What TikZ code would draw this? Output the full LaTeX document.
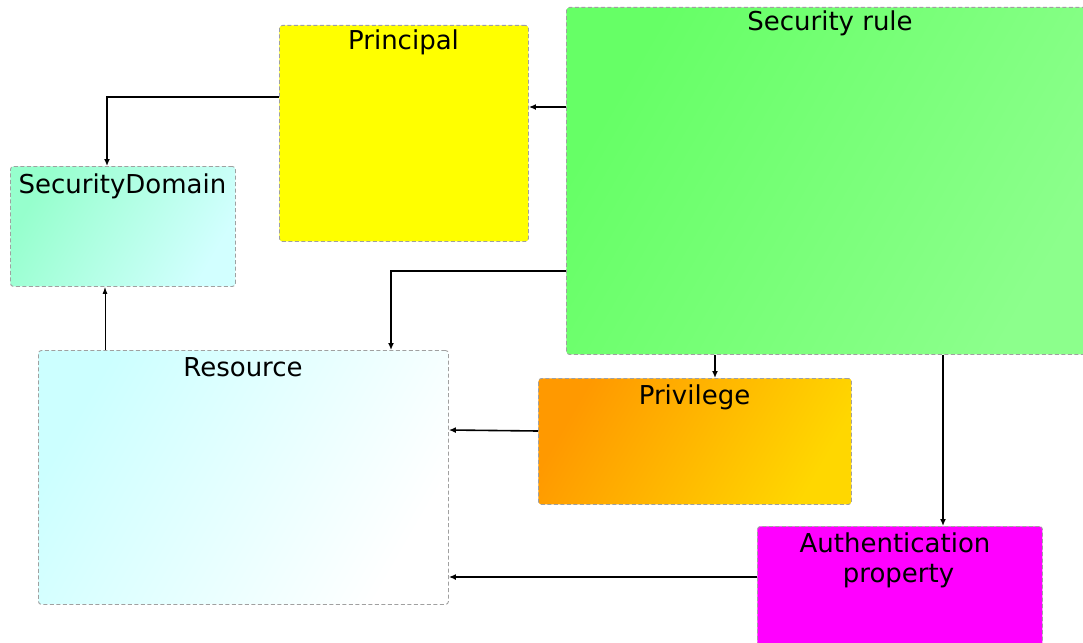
\documentclass[tikz,border=0pt]{standalone}
\usepackage{fontspec}
\setmainfont{DejaVu Sans}
\usetikzlibrary{arrows.meta,calc}
\definecolor{rulegA}{RGB}{102,255,102}
\definecolor{rulegB}{RGB}{140,255,140}
\definecolor{sdA}{RGB}{150,255,205}
\definecolor{sdB}{RGB}{210,255,255}
\definecolor{resA}{RGB}{204,255,255}
\definecolor{resB}{RGB}{255,255,255}
\definecolor{prvA}{RGB}{255,153,0}
\definecolor{prvB}{RGB}{255,215,0}
\definecolor{pyellow}{RGB}{255,255,0}
\definecolor{pmagenta}{RGB}{255,0,255}
\definecolor{bordergray}{RGB}{160,160,160}
\tikzset{
  box/.style={draw=bordergray, dash pattern=on 4pt off 2.5pt, line width=0.9pt, rounded corners=3pt, anchor=north west, inner sep=0pt},
  grad/.style n args={2}{top color=#1, bottom color=#2, shading angle=60},
  title/.style={anchor=base, font=\fontsize{26}{30}\selectfont, inner sep=0pt, align=center},
  arr/.style={line width=1.6pt, -{Latex[length=7pt,width=6pt]}},
  thinarr/.style={line width=1pt, -{Latex[length=7pt,width=5pt]}}
}
\begin{document}
\begin{tikzpicture}[x=1pt,y=-1pt]
\useasboundingbox (0,0) rectangle (1083,642);
\clip (0,0) rectangle (1083,642);
% boxes
\node[box, fill=pyellow, minimum width=249, minimum height=216] (principal) at (279,25) {};
\node[box, grad={rulegA}{rulegB}, minimum width=529, minimum height=347] (rule) at (566,7) {};
\node[box, grad={sdA}{sdB}, minimum width=225, minimum height=120] (sd) at (10,166) {};
\node[box, grad={resA}{resB}, minimum width=410, minimum height=254] (res) at (38,350) {};
\node[box, grad={prvA}{prvB}, minimum width=313, minimum height=126] (priv) at (538,378) {};
\node[box, fill=pmagenta, minimum width=285, minimum height=130] (auth) at (757,526) {};
% titles
\node[title] (principalT) at (403.5,50) {Principal};
\node[title] (ruleT) at (830,31) {Security rule};
\node[title] (sdT) at (122.5,193) {SecurityDomain};
\node[title] (resT) at (243,376) {Resource};
\node[title] (privT) at (694.5,404) {Privilege};
\node[title] (authT1) at (895,552) {Authentication};
\node[title] (authT2) at (898.5,582) {property};
% connectors
\draw[arr] (principal.west |- 0,97) -| (sd.north -| 107,0);
\draw[arr] (rule.west |- 0,107) -- (principal.east |- 0,107);
\draw[arr] (rule.west |- 0,271) -| (res.north -| 391,0);
\draw[thinarr] (res.north -| 105,0) -- (sd.south -| 105,0);
\draw[arr] (rule.south -| 715,0) -- (priv.north -| 715,0);
\draw[arr] (priv.west |- 0,431) -- (res.east |- 0,430);
\draw[arr] (rule.south -| 943,0) -- (auth.north -| 943,0);
\draw[arr] (auth.west |- 0,577) -- (res.east |- 0,577);
\end{tikzpicture}
\end{document}
